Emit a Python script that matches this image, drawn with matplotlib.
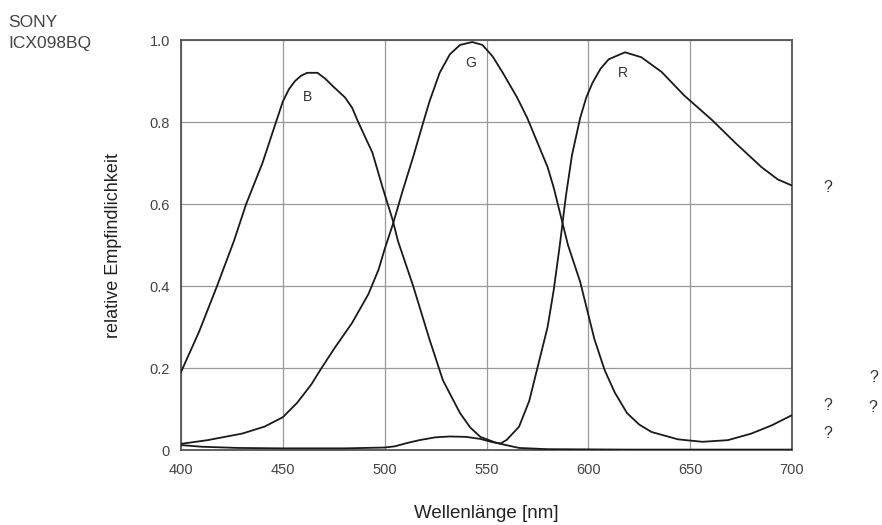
import matplotlib
matplotlib.use("Agg")
import matplotlib.pyplot as plt
import numpy as np

plt.rcParams['font.family'] = ['Liberation Sans', 'DejaVu Sans']

# spectral sensitivity
b_nm = [400, 409, 417.7, 426, 432, 440, 446, 450, 453, 456, 459, 462, 467, 471, 474, 480.5, 484,
        487, 494, 499, 504, 506.5, 514, 522, 528.6, 537, 542, 547, 555, 566, 580, 620, 700]
b_val = [0.19, 0.29, 0.40, 0.51, 0.60, 0.70, 0.79, 0.85, 0.88, 0.90, 0.913, 0.92, 0.92, 0.905,
         0.89, 0.86, 0.835, 0.80, 0.725, 0.64, 0.56, 0.51, 0.40, 0.27, 0.17, 0.09, 0.055, 0.032,
         0.017, 0.005, 0.002, 0.001, 0.001]

g_nm = [400, 413, 430, 441, 450, 457, 464, 469, 475.6, 484, 492, 497, 500, 504, 509, 514, 519,
        522, 527, 532, 537, 543, 548, 553, 558, 565, 570, 575, 580, 583, 587, 590, 596, 601,
        603, 608, 613, 619, 625, 631, 644, 656, 668.5, 680, 690, 700]
g_val = [0.015, 0.024, 0.04, 0.057, 0.08, 0.115, 0.16, 0.20, 0.25, 0.31, 0.38, 0.44, 0.49, 0.55,
         0.635, 0.715, 0.80, 0.85, 0.92, 0.965, 0.988, 0.995, 0.988, 0.96, 0.92, 0.86, 0.81, 0.75,
         0.69, 0.64, 0.56, 0.50, 0.41, 0.31, 0.27, 0.195, 0.14, 0.09, 0.062, 0.044, 0.026, 0.02,
         0.024, 0.04, 0.06, 0.085]

r_nm = [400, 410, 428, 450, 480, 500, 505, 511, 517, 525, 532, 540, 547, 553, 557, 560, 566,
        571, 576, 580, 583, 586, 589, 592, 596, 599, 602, 606, 610, 618, 626, 636, 647, 660.7, 672,
        685, 693, 700]
r_val = [0.012, 0.008, 0.005, 0.004, 0.004, 0.006, 0.009, 0.017, 0.024, 0.031, 0.033, 0.032,
         0.027, 0.019, 0.016, 0.025, 0.057, 0.12, 0.22, 0.30, 0.39, 0.50, 0.62, 0.72, 0.81, 0.86,
         0.895, 0.93, 0.953, 0.97, 0.958, 0.922, 0.865, 0.805, 0.75, 0.69, 0.66, 0.645]

curve_labels = ['B', 'G', 'R']
label_pos = [(462, 0.86), (542, 0.945), (617, 0.92)]

x_ticks = [400, 450, 500, 550, 600, 650, 700]
y_ticks = [0, 0.2, 0.4, 0.6, 0.8, 1.0]
y_ticklabels = ['0', '0.2', '0.4', '0.6', '0.8', '1.0']

fig = plt.figure(figsize=(8.82, 5.25), dpi=100)
ax = fig.add_axes([181 / 882, 1 - 450 / 525, 611 / 882, 410 / 525])

for nm, val in [(b_nm, b_val), (g_nm, g_val), (r_nm, r_val)]:
    ax.plot(nm, val, color='#1a1a1a', lw=1.3, zorder=3, solid_joinstyle='round')

for lab, (x, y) in zip(curve_labels, label_pos):
    ax.text(x, y, lab, fontsize=10, color='#333333', ha='center', va='center')

ax.set_xlim(400, 700)
ax.set_ylim(0, 1.0)
ax.set_xticks(x_ticks)
ax.set_yticks(y_ticks)
ax.set_yticklabels(y_ticklabels)
ax.tick_params(length=0, labelsize=10.5, colors='#444444')
ax.tick_params(axis='x', pad=9)
ax.tick_params(axis='y', pad=8)
ax.grid(True, color='#999999', lw=0.9)
ax.set_axisbelow(True)
for s in ax.spines.values():
    s.set_color('#555555')
    s.set_linewidth(1.3)

fig.text(486 / 882, 1 - 513 / 525, 'Wellenlänge [nm]', fontsize=13.5, color='#222222',
         ha='center', va='center')
fig.text(113 / 882, 1 - 245 / 525, 'relative Empfindlichkeit', fontsize=13, color='#222222',
         ha='center', va='center', rotation=90)
fig.text(8 / 882, 1 - 15 / 525, 'SONY', fontsize=12.5, color='#444444', ha='left', va='top')
fig.text(8 / 882, 1 - 36 / 525, 'ICX098BQ', fontsize=12.5, color='#444444', ha='left', va='top')

for qx, qy in [(828, 188), (874, 378), (828, 406), (873, 407), (828, 434)]:
    fig.text(qx / 882, 1 - qy / 525, '?', fontsize=11.5, color='#333333', ha='center',
             va='center')

fig.savefig('out.png', dpi=100)
